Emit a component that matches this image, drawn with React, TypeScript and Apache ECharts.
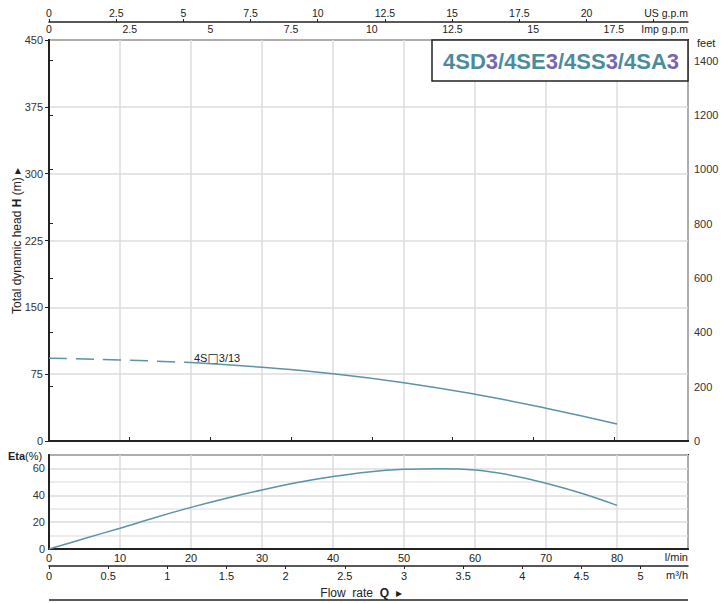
import React, { useEffect, useRef } from "react";
import * as echarts from "echarts";

// ---- data ----
const Q_H_DASHED = [0, 10, 20]; // l/min
const H_DASHED = [93, 91, 88]; // m
const Q_H_SOLID = [20, 30, 40, 50, 60, 70, 80]; // l/min
const H_SOLID = [88, 82.7, 75.5, 65.4, 52.4, 36.8, 19.1]; // m
const Q_ETA = [0, 5, 10, 15, 20, 25, 30, 35, 40, 45, 50, 55, 60, 65, 70, 75, 80]; // l/min
const ETA = [0, 7.8, 15.5, 23.5, 31, 37.8, 44, 49.5, 54, 57.4, 59.3, 59.8, 58.8, 55, 49, 41.5, 32.5]; // %
const CURVE_LABEL_PARTS = ["4S", "\u25A1", "3/13"];
const CURVE_LABEL_AT = [20, 88]; // [l/min, m]
const TITLE_PARTS = ["4SD", "3", "/4SE", "3", "/4SS", "3", "/4SA", "3"];

// axis ranges / unit conversions
const Q_MAX = 90;
const H_MAX = 450;
const ETA_MAX = 70;
const L_PER_USGAL = 3.785;
const L_PER_IMPGAL = 4.546;
const LMIN_PER_M3H = 16.667;
const FT_PER_M = 3.28084;

const FONT = "'Liberation Sans', Arial, sans-serif";
const CURVE = "#5b93a7";
const TEAL = "#4b8c9c";
const PURPLE = "#7665b0";
const AX = "#222";
const GRID = "#dcdcdc";
const GRID_MINOR = "#e6e6e6";

const fmtNum = (v: number) => String(Math.round(v * 100) / 100);

export default function App() {
  const ref = useRef<HTMLDivElement>(null);
  useEffect(() => {
    if (!ref.current) return;
    const chart = echarts.init(ref.current, undefined, { renderer: "svg" });

    const dashed = Q_H_DASHED.map((q, i) => [q, H_DASHED[i]]);
    const solid = Q_H_SOLID.map((q, i) => [q, H_SOLID[i]]);
    const eta = Q_ETA.map((q, i) => [q, ETA[i]]);

    const titleRich: any = {};
    TITLE_PARTS.forEach((_, i) => {
      titleRich["p" + i] = {
        fontSize: 22,
        fontWeight: "bold",
        fontFamily: FONT,
        fill: i % 2 === 0 ? TEAL : PURPLE,
      };
    });
    const titleText = TITLE_PARTS.map((p, i) => `{p${i}|${p}}`).join("");

    const gridCommon = { show: true, borderColor: AX, borderWidth: 2, backgroundColor: "transparent", containLabel: false, outerBoundsMode: "none" };

    const option: any = {
      animation: false,
      backgroundColor: "#fff",
      textStyle: { fontFamily: FONT },
      grid: [
        { ...gridCommon, left: 49, top: 40, width: 639, height: 401 },
        { ...gridCommon, left: 49, top: 455, width: 639, height: 94 },
      ],
      xAxis: [
        {
          gridIndex: 0, type: "value", min: 0, max: Q_MAX, interval: 10, position: "bottom",
          axisLine: { lineStyle: { color: AX, width: 2 } },
          axisTick: { show: false }, axisLabel: { show: false },
          splitLine: { show: true, lineStyle: { color: GRID, width: 1.5 } },
        },
        {
          gridIndex: 0, type: "value", min: 0, max: Q_MAX / L_PER_IMPGAL, interval: 2.5, position: "top",
          axisLine: { lineStyle: { color: AX, width: 2 } },
          axisTick: { show: true, length: 4, lineStyle: { color: AX, width: 1 } },
          axisLabel: { fontSize: 10.5, color: AX, margin: 6, showMaxLabel: false, formatter: (v: number) => (v > 17.51 ? "" : fmtNum(v)) },
          splitLine: { show: false },
        },
        {
          gridIndex: 0, type: "value", min: 0, max: Q_MAX / L_PER_USGAL, interval: 2.5, position: "top", offset: 18,
          axisLine: { lineStyle: { color: AX, width: 1.5 } },
          axisTick: { show: true, length: 3, lineStyle: { color: AX, width: 1 } },
          axisLabel: { fontSize: 10.5, color: AX, margin: 4, showMaxLabel: false, formatter: (v: number) => (v > 20.01 ? "" : fmtNum(v)) },
          splitLine: { show: false },
        },
        {
          gridIndex: 1, type: "value", min: 0, max: Q_MAX, interval: 10, position: "bottom",
          axisLine: { lineStyle: { color: AX, width: 2 } },
          axisTick: { show: false },
          axisLabel: { fontSize: 11, color: AX, margin: 3, formatter: (v: number) => (v >= Q_MAX ? "" : String(v)) },
          splitLine: { show: true, lineStyle: { color: GRID, width: 1.5 } },
        },
        {
          gridIndex: 1, type: "value", min: 0, max: Q_MAX / LMIN_PER_M3H, interval: 0.5, position: "bottom", offset: 17,
          axisLine: { lineStyle: { color: AX, width: 1.5 } },
          axisTick: { show: true, length: 3, lineStyle: { color: AX, width: 1 } },
          axisLabel: { fontSize: 11, color: AX, margin: 4, showMaxLabel: false, formatter: (v: number) => (v > 5.01 ? "" : fmtNum(v)) },
          splitLine: { show: false },
        },
      ],
      yAxis: [
        {
          gridIndex: 0, type: "value", min: 0, max: H_MAX, interval: 75, position: "left",
          axisLine: { show: true, lineStyle: { color: AX, width: 2 } },
          axisTick: { show: true, length: 4, lineStyle: { color: AX } },
          axisLabel: { fontSize: 11, color: "#333", margin: 6 },
          splitLine: { show: true, lineStyle: { color: GRID, width: 1.5 } },
        },
        {
          gridIndex: 0, type: "value", min: 0, max: H_MAX * FT_PER_M, interval: 200, position: "right",
          axisLine: { show: true, lineStyle: { color: AX, width: 2 } },
          axisTick: { show: true, length: 4, lineStyle: { color: AX } },
          axisLabel: { fontSize: 11, color: "#333", margin: 6, showMaxLabel: false, formatter: (v: number) => (v > 1400.5 ? "" : String(v)) },
          splitLine: { show: false },
        },
        {
          gridIndex: 1, type: "value", min: 0, max: ETA_MAX, interval: 10, position: "left",
          axisLine: { show: true, lineStyle: { color: AX, width: 2 } },
          axisTick: { show: false },
          axisLabel: { fontSize: 11, color: "#333", margin: 4, showMaxLabel: false, formatter: (v: number) => (v % 20 === 0 && v <= 60 ? String(v) : "") },
          splitLine: { show: true, lineStyle: { color: [GRID, GRID_MINOR, GRID, GRID_MINOR, GRID, GRID_MINOR, GRID, GRID], width: 1.5 } },
        },
      ],
      series: [
        {
          type: "line", xAxisIndex: 0, yAxisIndex: 0, data: dashed, smooth: true, symbol: "none",
          lineStyle: { color: CURVE, width: 1.5, type: [18, 9] }, silent: true,
        },
        {
          type: "line", xAxisIndex: 0, yAxisIndex: 0, data: solid, smooth: true, symbol: "none",
          lineStyle: { color: CURVE, width: 1.5 }, silent: true,
        },
        {
          type: "line", xAxisIndex: 3, yAxisIndex: 2, data: eta, smooth: 0.4, symbol: "none",
          lineStyle: { color: CURVE, width: 1.5 }, silent: true,
        },
      ],
      graphic: [
        {
          id: "hname", type: "text", x: 17, y: 241, rotation: Math.PI / 2,
          style: {
            text: "{n|Total dynamic head }{b|H}{n| (m) \u25B8}", align: "center", verticalAlign: "middle",
            rich: { n: { fontSize: 12, fill: AX, fontFamily: FONT }, b: { fontSize: 12, fontWeight: "bold", fill: AX, fontFamily: FONT } },
          },
        },
        { id: "us", type: "text", x: 688, y: 13, style: { text: "US g.p.m", fontSize: 10.5, fill: AX, fontFamily: FONT, align: "right", verticalAlign: "middle" } },
        { id: "imp", type: "text", x: 688, y: 29, style: { text: "Imp g.p.m", fontSize: 10.5, fill: AX, fontFamily: FONT, align: "right", verticalAlign: "middle" } },
        { id: "feet", type: "text", x: 697, y: 43, style: { text: "feet", fontSize: 11, fill: AX, fontFamily: FONT, align: "left", verticalAlign: "middle" } },
        { id: "tbox", type: "rect", shape: { x: 432, y: 40, width: 256, height: 41 }, style: { fill: "#fff", stroke: AX, lineWidth: 1.5 }, z: 10 },
        { id: "ttext", type: "text", x: 561, y: 61, z: 11, style: { text: titleText, rich: titleRich, align: "center", verticalAlign: "middle", fontFamily: FONT } },
        {
          id: "eta", type: "text", x: 8, y: 456,
          style: {
            text: "{b|Eta}{n|(%)}", verticalAlign: "middle", align: "left",
            rich: { b: { fontSize: 11, fontWeight: "bold", fill: AX, fontFamily: FONT }, n: { fontSize: 11, fill: AX, fontFamily: FONT } },
          },
        },
        { id: "lmin", type: "text", x: 688, y: 557, style: { text: "l/min", fontSize: 11, fill: AX, fontFamily: FONT, align: "right", verticalAlign: "middle" } },
        { id: "m3h", type: "text", x: 688, y: 575, style: { text: "m\u00B3/h", fontSize: 11, fill: AX, fontFamily: FONT, align: "right", verticalAlign: "middle" } },
        {
          id: "flow", type: "text", x: 361, y: 593,
          style: {
            text: "{n|Flow  rate  }{b|Q}{n|  \u25B8}", align: "center", verticalAlign: "middle",
            rich: { n: { fontSize: 12, fill: AX, fontFamily: FONT }, b: { fontSize: 12, fontWeight: "bold", fill: AX, fontFamily: FONT } },
          },
        },
        { id: "bline", type: "line", shape: { x1: 49, y1: 600, x2: 688, y2: 600 }, style: { stroke: AX, lineWidth: 1.5 } },
      ],
    };
    chart.setOption(option);

    // curve label anchored to the data point through the chart's own scales
    const p = chart.convertToPixel({ xAxisIndex: 0, yAxisIndex: 0 }, CURVE_LABEL_AT) as number[];
    if (p && isFinite(p[0])) {
      chart.setOption({
        graphic: [
          {
            id: "curveLabel", type: "text", x: p[0] + 3, y: p[1] - 5,
            style: {
              text: `{t|${CURVE_LABEL_PARTS[0]}}{s|${CURVE_LABEL_PARTS[1]}}{t|${CURVE_LABEL_PARTS[2]}}`,
              align: "left", verticalAlign: "middle",
              rich: {
                t: { fontSize: 11, fill: AX, fontFamily: FONT },
                s: { fontSize: 12, fill: AX, fontFamily: "'DejaVu Sans', sans-serif" },
              },
            },
          },
        ],
      });
    }
    return () => chart.dispose();
  }, []);
  return <div ref={ref} style={{ position: "absolute", left: 0, top: 0, width: 722, height: 603 }} />;
}
